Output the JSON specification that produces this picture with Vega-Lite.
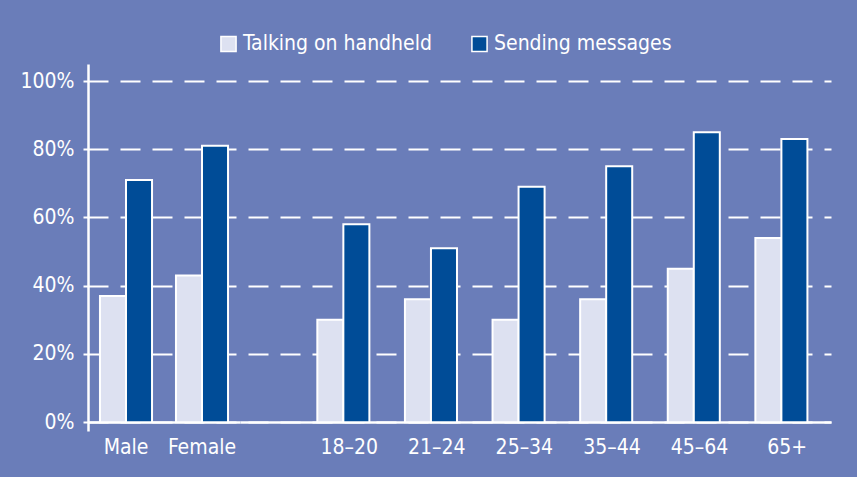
{
  "$schema": "https://vega.github.io/schema/vega-lite/v6.json",
  "background": "#6a7db9",
  "padding": {"left": 19, "top": 33, "right": 27, "bottom": 20},
  "datasets": {
    "survey": [
      {"group": "gender", "category": "Male", "series": "Talking on handheld", "value": 37},
      {"group": "gender", "category": "Male", "series": "Sending messages", "value": 71},
      {"group": "gender", "category": "Female", "series": "Talking on handheld", "value": 43},
      {"group": "gender", "category": "Female", "series": "Sending messages", "value": 81},
      {"group": "age", "category": "18–20", "series": "Talking on handheld", "value": 30},
      {"group": "age", "category": "18–20", "series": "Sending messages", "value": 58},
      {"group": "age", "category": "21–24", "series": "Talking on handheld", "value": 36},
      {"group": "age", "category": "21–24", "series": "Sending messages", "value": 51},
      {"group": "age", "category": "25–34", "series": "Talking on handheld", "value": 30},
      {"group": "age", "category": "25–34", "series": "Sending messages", "value": 69},
      {"group": "age", "category": "35–44", "series": "Talking on handheld", "value": 36},
      {"group": "age", "category": "35–44", "series": "Sending messages", "value": 75},
      {"group": "age", "category": "45–64", "series": "Talking on handheld", "value": 45},
      {"group": "age", "category": "45–64", "series": "Sending messages", "value": 85},
      {"group": "age", "category": "65+", "series": "Talking on handheld", "value": 54},
      {"group": "age", "category": "65+", "series": "Sending messages", "value": 83}
    ]
  },
  "data": {"name": "survey"},
  "spacing": 0,
  "hconcat": [
    {
      "width": 152,
      "height": 367,
      "transform": [{"filter": "datum.group === 'gender'"}],
      "mark": {"type": "bar", "stroke": "white", "strokeWidth": 2},
      "encoding": {
        "x": {
          "field": "category", "type": "nominal", "sort": ["Male", "Female"],
          "scale": {"paddingInner": 0, "paddingOuter": 0},
          "axis": {"title": null, "labelAngle": 0, "ticks": false, "offset": -9, "labelPadding": 14, "domainColor": "white", "domainWidth": 2.5}
        },
        "xOffset": {
          "field": "series", "sort": ["Talking on handheld", "Sending messages"],
          "scale": {"paddingInner": 0, "paddingOuter": 0.46}
        },
        "y": {
          "field": "value", "type": "quantitative",
          "scale": {"domain": [-2.6, 105], "nice": false, "zero": false},
          "axis": {
            "title": null, "values": [0, 20, 40, 60, 80, 100],
            "labelExpr": "datum.value + '%'", "grid": true,
            "gridColor": "white", "gridDash": [20, 12], "gridWidth": 2,
            "domainColor": "white", "domainWidth": 2.5,
            "tickColor": "white", "tickWidth": 2, "tickSize": 5, "labelPadding": 9
          }
        },
        "color": {
          "field": "series", "type": "nominal",
          "scale": {"domain": ["Talking on handheld", "Sending messages"], "range": ["#dde1f1", "#004c97"]},
          "legend": {"title": null, "orient": "none", "legendX": 130, "legendY": -31, "direction": "horizontal"}
        }
      }
    },
    {
      "width": 591,
      "height": 367,
      "transform": [{"filter": "datum.group === 'age'"}],
      "mark": {"type": "bar", "stroke": "white", "strokeWidth": 2},
      "encoding": {
        "x": {
          "field": "category", "type": "nominal",
          "sort": ["18–20", "21–24", "25–34", "35–44", "45–64", "65+"],
          "scale": {"paddingInner": 0, "paddingOuter": 0.373, "align": 1},
          "axis": {"title": null, "labelAngle": 0, "ticks": false, "offset": -9, "labelPadding": 14, "domainColor": "white", "domainWidth": 2.5}
        },
        "xOffset": {
          "field": "series", "sort": ["Talking on handheld", "Sending messages"],
          "scale": {"paddingInner": 0, "paddingOuter": 0.68}
        },
        "y": {
          "field": "value", "type": "quantitative",
          "scale": {"domain": [-2.6, 105], "nice": false, "zero": false},
          "axis": {
            "title": null, "values": [0, 20, 40, 60, 80, 100],
            "labels": false, "ticks": false, "domain": false, "grid": true,
            "gridColor": "white", "gridDash": [20, 12], "gridDashOffset": 24, "gridWidth": 2
          }
        },
        "color": {
          "field": "series", "type": "nominal",
          "scale": {"domain": ["Talking on handheld", "Sending messages"], "range": ["#dde1f1", "#004c97"]},
          "legend": {"title": null, "orient": "none", "legendX": 130, "legendY": -31, "direction": "horizontal"}
        }
      }
    }
  ],
  "config": {
    "view": {"stroke": null},
    "font": "DejaVu Sans Condensed, Liberation Sans",
    "axis": {"labelFont": "DejaVu Sans Condensed, Liberation Sans", "labelFontSize": 21, "labelColor": "white"},
    "legend": {
      "labelFont": "DejaVu Sans Condensed, Liberation Sans", "labelFontSize": 21, "labelColor": "white", "labelLimit": 0,
      "symbolType": "square", "symbolSize": 230, "symbolStrokeColor": "white", "symbolStrokeWidth": 1.5,
      "labelOffset": 4, "columnPadding": 36, "symbolOpacity": 1
    }
  }
}
